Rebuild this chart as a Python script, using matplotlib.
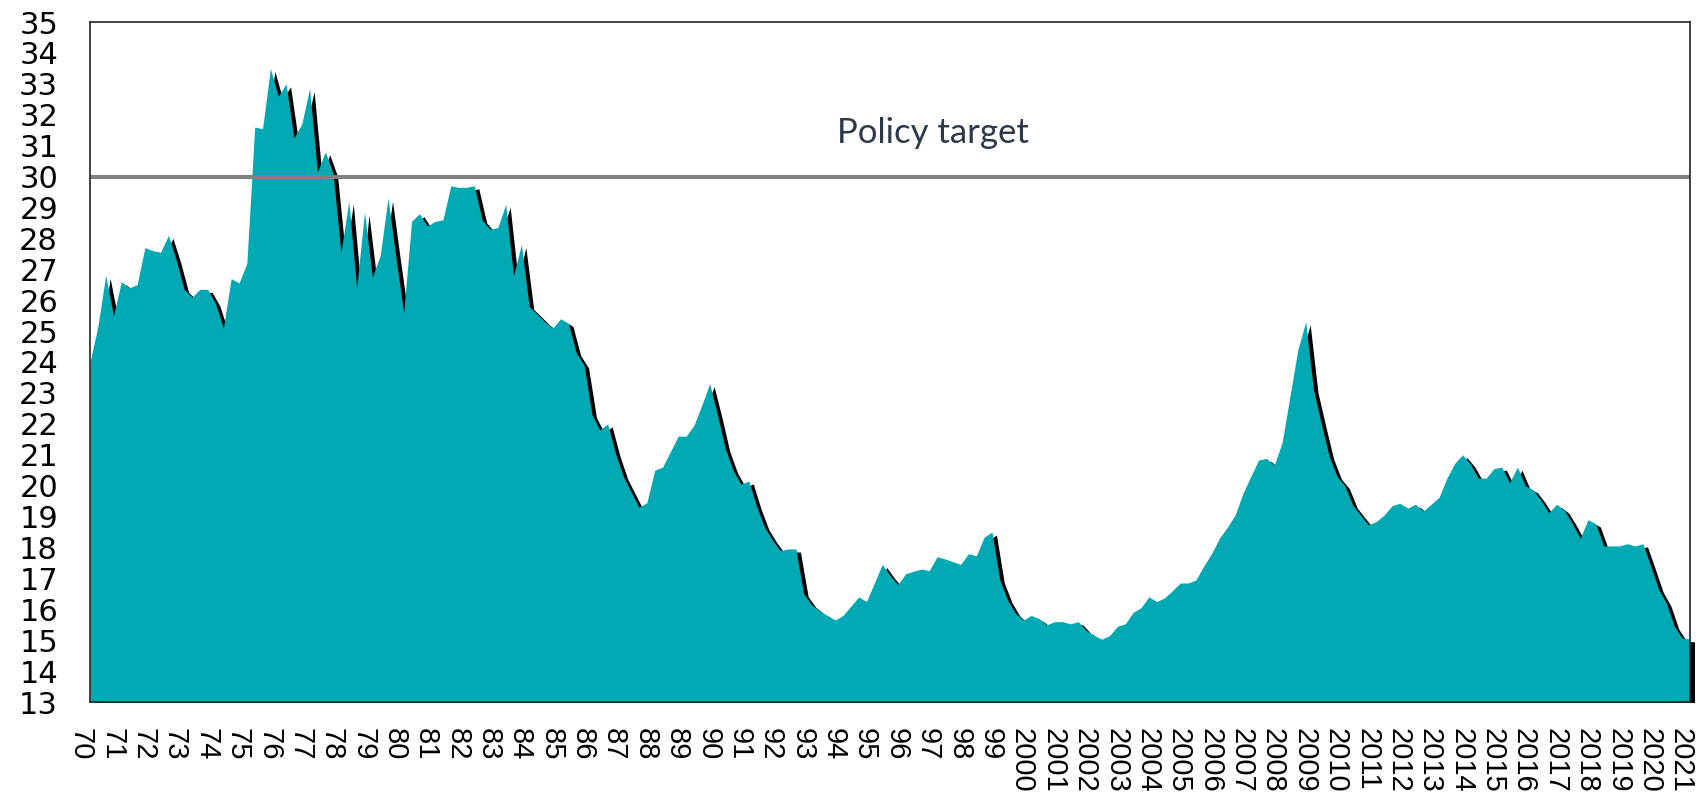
import matplotlib
matplotlib.use("Agg")
import matplotlib.pyplot as plt
import matplotlib.transforms as mtransforms
import numpy as np

# quarterly values, 1970Q1 .. 2021Q1
vals_70s = [24.0, 25.15, 26.8, 25.5, 26.6, 26.4, 26.5, 27.7, 27.6, 27.55,
            28.1, 27.3, 26.35, 26.1, 26.35, 26.35, 25.9, 25.1, 26.7, 26.55,
            27.2, 31.6, 31.55, 33.5, 32.6, 33.0, 31.25, 31.7, 32.85, 30.15,
            30.8, 30.1, 27.55, 29.2, 26.4, 28.85, 26.75, 27.45, 29.3, 27.4]
vals_80s = [25.6, 28.55, 28.8, 28.4, 28.55, 28.6, 29.7, 29.65, 29.65, 29.7,
            28.6, 28.3, 28.35, 29.1, 26.8, 27.8, 25.8, 25.55, 25.3, 25.1,
            25.4, 25.25, 24.3, 23.9, 22.3, 21.8, 22.0, 21.05, 20.3, 19.8,
            19.3, 19.45, 20.5, 20.6, 21.1, 21.6, 21.6, 21.95, 22.6, 23.3]
vals_90s = [22.3, 21.2, 20.5, 20.05, 20.15, 19.33, 18.66, 18.25, 17.9, 17.95,
            17.95, 16.5, 16.15, 15.95, 15.8, 15.65, 15.8, 16.1, 16.4, 16.25,
            16.85, 17.45, 17.1, 16.8, 17.15, 17.23, 17.3, 17.25, 17.7, 17.63,
            17.54, 17.45, 17.8, 17.73, 18.33, 18.5, 16.95, 16.3, 15.87, 15.65]
vals_00s = [15.8, 15.7, 15.5, 15.6, 15.6, 15.53, 15.6, 15.32, 15.16, 15.03,
            15.15, 15.45, 15.53, 15.9, 16.05, 16.4, 16.25, 16.37, 16.6, 16.85,
            16.85, 16.95, 17.4, 17.8, 18.3, 18.65, 19.05, 19.75, 20.3, 20.83,
            20.88, 20.67, 21.4, 22.9, 24.4, 25.3, 23.1, 22.0, 20.95, 20.3]
vals_10s = [20.0, 19.37, 19.05, 18.73, 18.84, 19.05, 19.35, 19.43, 19.27, 19.4,
            19.18, 19.4, 19.62, 20.24, 20.72, 21.0, 20.7, 20.25, 20.24, 20.55,
            20.6, 20.1, 20.6, 20.0, 19.86, 19.53, 19.12, 19.4, 19.2, 18.78,
            18.3, 18.9, 18.76, 18.05, 18.05, 18.05, 18.12, 18.05, 18.12, 17.4]
vals_20s = [16.65, 16.2, 15.45, 15.07, 15.04]

years = list(range(1970, 2022))
year_labels = [str(y)[2:] if y < 2000 else str(y) for y in years]
target = 30
target_label = "Policy target"

values = np.array(vals_70s + vals_80s + vals_90s + vals_00s + vals_10s + vals_20s)
q = np.arange(len(values))

teal = "#00A9B4"

fig = plt.figure(figsize=(17.04, 7.92), dpi=100)
ax = fig.add_axes([90 / 1704, 90 / 792, 1600 / 1704, 680 / 792])

# black drop shadow, shifted right and down a few pixels
shift = mtransforms.ScaledTranslation(4.5 / 100, -3 / 100, fig.dpi_scale_trans)
shadow = ax.fill_between(q, 13, values, color="black", lw=0,
                         transform=ax.transData + shift)
shadow.set_clip_box(mtransforms.TransformedBbox(
    mtransforms.Bbox([[0, 0], [1.003, 1]]), ax.transAxes))
ax.fill_between(q, 13, values, color=teal, lw=0)

ax.axhline(target, color="#808080", lw=2.9)
ax.text(107.5, 31.09, target_label, ha="center", va="baseline",
        fontsize=25, family="Lato", color="#2D3848")

ax.set_xlim(0, len(values) - 1)
ax.set_ylim(13, 35)

ax.set_yticks(np.arange(13, 36))
ax.set_yticklabels([str(v) for v in range(13, 36)], family="DejaVu Sans", fontsize=22)
ax.set_xticks([4 * i for i in range(len(years))])
ax.set_xticklabels(year_labels, rotation=270, family="Liberation Sans", fontsize=21)
ax.tick_params(axis="both", length=0, colors="black")
ax.tick_params(axis="y", pad=23)
ax.tick_params(axis="x", pad=18.5)

nudge = mtransforms.ScaledTranslation(-9.2 / 100, 0, fig.dpi_scale_trans)
for lab in ax.get_xticklabels():
    lab.set_transform(lab.get_transform() + nudge)

for s in ax.spines.values():
    s.set_color("#222222")
    s.set_linewidth(1.2)

fig.savefig("out.png", dpi=100)
